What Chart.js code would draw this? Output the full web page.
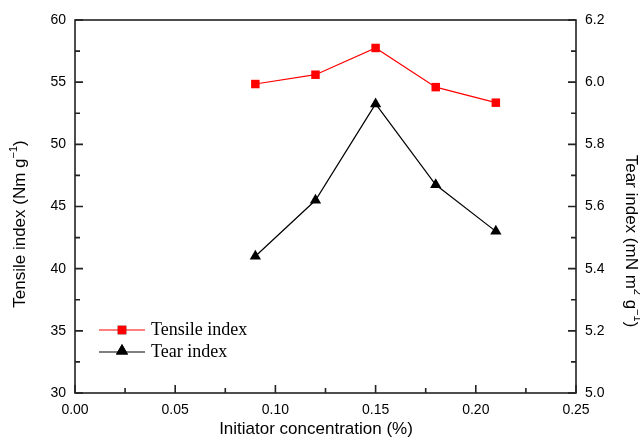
<!DOCTYPE html>
<html>
<head>
<meta charset="utf-8">
<script src="https://cdn.jsdelivr.net/npm/chart.js@4/dist/chart.umd.min.js"></script>
<style>
  body { margin: 0; background: #fff; }
</style>
</head>
<body>
<canvas id="chart" width="640" height="440"></canvas>
<script>
// values
const concentrations = [0.09, 0.12, 0.15, 0.18, 0.21];
const tensileIndex = [54.85, 55.6, 57.75, 54.6, 53.35];
const tearIndex = [5.44, 5.62, 5.93, 5.67, 5.52];

const seriesNames = ["Tensile index", "Tear index"];

const toPoints = (xs, ys) => xs.map((x, i) => ({ x: x, y: ys[i] }));

const sansFamily = '"Liberation Sans", Arial, sans-serif';

// frame + inward major/minor ticks
const frameTicks = {
    id: 'frameTicks',
    afterDraw(chart) {
        const ctx = chart.ctx;
        const a = chart.chartArea;
        ctx.save();
        ctx.strokeStyle = '#222';
        ctx.lineWidth = 1.6;
        ctx.strokeRect(a.left, a.top, a.right - a.left, a.bottom - a.top);

        const drawTicks = (scale, side) => {
            const vals = scale.ticks.map(t => t.value);
            const step = vals[1] - vals[0];
            ctx.beginPath();
            vals.forEach((v, i) => {
                const marks = [[v, 8]];
                if (i < vals.length - 1) marks.push([v + step / 2, 5]);
                marks.forEach(([val, len]) => {
                    const p = scale.getPixelForValue(val);
                    if (side === 'left') { ctx.moveTo(a.left, p); ctx.lineTo(a.left + len, p); }
                    if (side === 'right') { ctx.moveTo(a.right, p); ctx.lineTo(a.right - len, p); }
                    if (side === 'bottom') { ctx.moveTo(p, a.bottom); ctx.lineTo(p, a.bottom - len); }
                });
            });
            ctx.stroke();
        };
        drawTicks(chart.scales.x, 'bottom');
        drawTicks(chart.scales.y, 'left');
        drawTicks(chart.scales.y1, 'right');
        ctx.restore();
    }
};

// axis titles with real superscripts
function drawRich(ctx, parts, cx, cy, angle) {
    const base = '17px ' + sansFamily;
    const small = '11px ' + sansFamily;
    let total = 0;
    parts.forEach(p => { ctx.font = p.sup ? small : base; total += ctx.measureText(p.t).width; });
    ctx.save();
    ctx.translate(cx, cy);
    ctx.rotate(angle);
    ctx.fillStyle = '#000';
    ctx.textBaseline = 'middle';
    ctx.textAlign = 'left';
    let x = -total / 2;
    parts.forEach(p => {
        ctx.font = p.sup ? small : base;
        ctx.fillText(p.t, x, p.sup ? -6 : 0);
        x += ctx.measureText(p.t).width;
    });
    ctx.restore();
}

const axisTitles = {
    id: 'axisTitles',
    afterDraw(chart) {
        const ctx = chart.ctx;
        drawRich(ctx, [{ t: 'Initiator concentration (%)' }], 316, 429, 0);
        drawRich(ctx, [{ t: 'Tensile index (Nm g' }, { t: '\u22121', sup: true }, { t: ')' }],
            20, 224, -Math.PI / 2);
        drawRich(ctx, [{ t: 'Tear index (mN m' }, { t: '2', sup: true }, { t: ' g' },
            { t: '\u22121', sup: true }, { t: ')' }], 631, 241, Math.PI / 2);
    }
};

// legend inside the plot, bottom-left
const insideLegend = {
    id: 'insideLegend',
    afterDraw(chart) {
        const ctx = chart.ctx;
        ctx.save();
        ctx.font = '18px "Liberation Serif", "Times New Roman", serif';
        ctx.textBaseline = 'middle';
        chart.data.datasets.forEach((ds, i) => {
            const y = 330 + i * 22;
            ctx.strokeStyle = ds.borderColor;
            ctx.lineWidth = 1.2;
            ctx.beginPath();
            ctx.moveTo(99, y);
            ctx.lineTo(145, y);
            ctx.stroke();
            Chart.helpers.drawPoint(ctx, {
                pointStyle: ds.pointStyle,
                radius: ds.pointStyle === 'triangle' ? 7 : 6,
                borderWidth: 0,
                rotation: 0
            }, 122, ds.pointStyle === 'triangle' ? y - 1 : y);
            ctx.fillStyle = ds.pointBackgroundColor;
            ctx.fill();
            ctx.fillStyle = '#000';
            ctx.fillText(ds.label, 151, y);
        });
        ctx.restore();
    }
};

const tickFont = { family: sansFamily, size: 14 };

const ctx = document.getElementById('chart');
const chart = new Chart(ctx, {
    type: 'line',
    data: {
        datasets: [{
            label: seriesNames[0],
            data: toPoints(concentrations, tensileIndex),
            yAxisID: 'y',
            borderColor: '#ff0000',
            backgroundColor: '#ff0000',
            pointBackgroundColor: '#ff0000',
            pointBorderColor: '#ff0000',
            pointStyle: 'rect',
            pointRadius: 6,
            pointBorderWidth: 0,
            borderWidth: 1.2
        }, {
            label: seriesNames[1],
            data: toPoints(concentrations, tearIndex),
            yAxisID: 'y1',
            borderColor: '#000000',
            backgroundColor: '#000000',
            pointBackgroundColor: '#000000',
            pointBorderColor: '#000000',
            pointStyle: 'triangle',
            pointRadius: 6.5,
            pointBorderWidth: 0,
            borderWidth: 1.2
        }]
    },
    options: {
        responsive: false,
        animation: false,
        devicePixelRatio: 1,
        layout: { padding: { top: 20, left: 0, right: 0, bottom: 0 } },
        plugins: {
            legend: { display: false },
            tooltip: { enabled: false }
        },
        scales: {
            x: {
                type: 'linear',
                min: 0,
                max: 0.25,
                grid: { display: false },
                border: { display: false },
                ticks: {
                    stepSize: 0.05,
                    color: '#000',
                    font: tickFont,
                    padding: 1,
                    maxRotation: 0,
                    callback: v => v.toFixed(2)
                },
                afterFit: s => { s.height = 47; }
            },
            y: {
                position: 'left',
                min: 30,
                max: 60,
                grid: { display: false },
                border: { display: false },
                ticks: {
                    stepSize: 5,
                    color: '#000',
                    font: tickFont,
                    padding: 1
                },
                afterFit: s => { s.width = 75; }
            },
            y1: {
                position: 'right',
                min: 5.0,
                max: 6.2,
                grid: { display: false },
                border: { display: false },
                ticks: {
                    stepSize: 0.2,
                    color: '#000',
                    font: tickFont,
                    padding: 1,
                    callback: v => v.toFixed(1)
                },
                afterFit: s => { s.width = 64; }
            }
        }
    },
    plugins: [frameTicks, axisTitles, insideLegend]
});
</script>
</body>
</html>
